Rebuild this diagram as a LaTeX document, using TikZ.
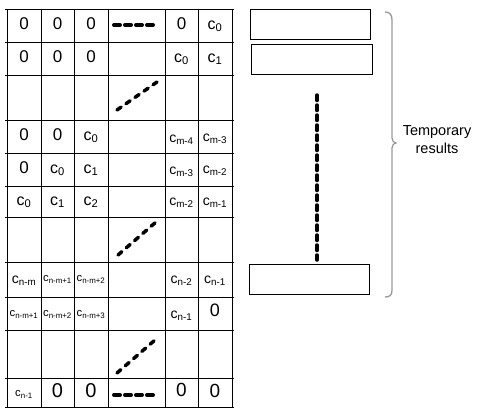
\documentclass[tikz,border=0pt]{standalone}
\usepackage{fontspec}
\setmainfont{Liberation Sans}
\newcommand\cc[1]{c\textsubscript{#1}}
\tikzset{
  grid line/.style={line width=0.9pt},
  cell/.style={inner sep=0pt, anchor=center, text height=0.72em, text depth=0pt},
  big/.style={cell, font=\fontsize{16}{16}\selectfont},
  zero/.style={cell, font=\fontsize{17}{17}\selectfont},
  mid/.style={cell, font=\fontsize{14}{14}\selectfont},
  small/.style={cell, font=\fontsize{11.3}{11.3}\selectfont},
  thickdash/.style={line width=4pt, dash pattern=on 6pt off 5pt, line cap=round},
  diagdash/.style={line width=3.5pt, dash pattern=on 5pt off 6pt, line cap=round},
  resbox/.style={draw, line width=0.9pt, minimum width=120pt, minimum height=30pt, inner sep=0pt},
  bracecol/.style={draw=black!40, line width=1.3pt},
}
\begin{document}
\begin{tikzpicture}[x=1pt, y=-1pt]
\useasboundingbox (0,0) rectangle (478,412);
% grid
\foreach \x in {7,41,74,108,165,198,232}
  \draw[grid line] (\x,9) -- (\x,407);
\foreach \y in {9,42,75,120,153,186,217,262,297,330,378,407}
  \draw[grid line] (5,\y) -- (234,\y);
% row 1
\node[zero] (a11) at (24,25.5) {0};
\node[zero] (a12) at (57.5,25.5) {0};
\node[zero] (a13) at (91,25.5) {0};
\coordinate (h1s) at (114,25);
\coordinate (h1e) at (156,25);
\draw[thickdash] (h1s) -- (h1e);
\node[zero] (a15) at (181.5,25.5) {0};
\node[big] (a16) at (215,25.5) {\cc{0}};
% row 2
\node[zero] (a21) at (24,58.5) {0};
\node[zero] (a22) at (57.5,58.5) {0};
\node[zero] (a23) at (91,58.5) {0};
\node[big] (a25) at (181.5,58.5) {\cc{0}};
\node[big] (a26) at (215,58.5) {\cc{1}};
% row 3 diag
\coordinate (d1s) at (117,110);
\coordinate (d1e) at (157,82);
\draw[diagdash] (d1s) -- (d1e);
% row 4
\node[zero] (a41) at (24,136.5) {0};
\node[zero] (a42) at (57.5,136.5) {0};
\node[big] (a43) at (91,136.5) {\cc{0}};
\node[mid] (a45) at (181.5,139) {\cc{m-4}};
\node[mid] (a46) at (215,138) {\cc{m-3}};
% row 5
\node[zero] (a51) at (24,169.5) {0};
\node[big] (a52) at (57.5,169.5) {\cc{0}};
\node[big] (a53) at (91,169.5) {\cc{1}};
\node[mid] (a55) at (181.5,171) {\cc{m-3}};
\node[mid] (a56) at (215,170) {\cc{m-2}};
% row 6
\node[big] (a61) at (24,201.5) {\cc{0}};
\node[big] (a62) at (57.5,201.5) {\cc{1}};
\node[big] (a63) at (91,201.5) {\cc{2}};
\node[mid] (a65) at (181.5,202) {\cc{m-2}};
\node[mid] (a66) at (215,202) {\cc{m-1}};
% row 7 diag
\coordinate (d2s) at (118,255);
\coordinate (d2e) at (156,222);
\draw[diagdash] (d2s) -- (d2e);
% row 8
\node[mid] (a81) at (24,279.5) {\cc{n-m}};
\node[small] (a82) at (57.5,278) {\cc{n-m+1}};
\node[small] (a83) at (91,278) {\cc{n-m+2}};
\node[mid] (a85) at (181.5,279.5) {\cc{n-2}};
\node[mid] (a86) at (215,279.5) {\cc{n-1}};
% row 9
\node[small] (a91) at (24,313) {\cc{n-m+1}};
\node[small] (a92) at (57.5,313) {\cc{n-m+2}};
\node[small] (a93) at (91,313) {\cc{n-m+3}};
\node[mid] (a95) at (181.5,315) {\cc{n-1}};
\node[zero, font=\fontsize{18}{18}\selectfont] (a96) at (215,313) {0};
% row 10 diag
\coordinate (d3s) at (117,373);
\coordinate (d3e) at (155,340);
\draw[diagdash] (d3s) -- (d3e);
% row 11
\node[small] (b1) at (24,393) {\cc{n-1}};
\node[zero, font=\fontsize{20}{20}\selectfont] (b2) at (57.5,393.5) {0};
\node[zero, font=\fontsize{20}{20}\selectfont] (b3) at (91,393.5) {0};
\coordinate (h2s) at (114,395);
\coordinate (h2e) at (156,395);
\draw[thickdash] (h2s) -- (h2e);
\node[zero, font=\fontsize{19}{19}\selectfont] (b5) at (181.5,393) {0};
\node[zero, font=\fontsize{19}{19}\selectfont] (b6) at (215,393.5) {0};
% result boxes
\node[resbox] (r1) at (310,24) {};
\node[resbox, minimum width=121pt] (r2) at (311.5,59) {};
\node[resbox] (r3) at (309,279) {};
\coordinate (vs) at (317,95);
\coordinate (ve) at (317,260);
\draw[line width=3.5pt, dash pattern=on 5.5pt off 4.5pt, line cap=round] (vs) -- (ve);
% brace
\draw[bracecol] (385,12) .. controls (390,12) and (392,15) .. (392,20)
  -- (392,138) .. controls (392,141) and (394,143) .. (396,143)
  .. controls (394,143) and (392,145) .. (392,148)
  -- (392,290) .. controls (392,295) and (390,297) .. (385,297);
\node[align=center, font=\fontsize{14.5}{18}\selectfont, inner sep=0pt] (tr) at (437,140) {Temporary\\results};
\end{tikzpicture}
\end{document}
